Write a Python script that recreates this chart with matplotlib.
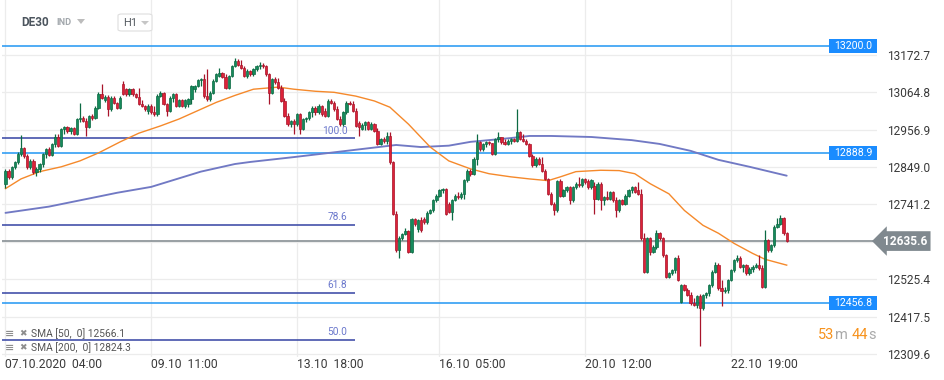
import matplotlib
matplotlib.use("Agg")
import matplotlib.pyplot as plt
from matplotlib.patches import Rectangle, Polygon, FancyBboxPatch
from matplotlib.transforms import blended_transform_factory

plt.rcParams['font.family'] = ['Roboto', 'DejaVu Sans']

# ---------------- data ----------------
opens = [12801,12839,12821,12849,12863,12887,12903,12882,12849,12868,
12834,12844,12858,12887,12901,12884,12916,12935,12911,12959,
12964,12952,12962,12946,12988,12992,12983,12966,12997,12992,
13021,13061,13044,13052,13016,13050,13035,13021,13090,13074,
13059,13074,13059,13052,13031,13026,13010,13026,13007,13002,
13055,13064,13031,13012,13050,13059,13026,13043,13026,13030,
13045,13075,13083,13100,13102,13055,13045,13064,13098,13112,
13120,13110,13078,13112,13141,13155,13145,13136,13112,13127,
13117,13131,13141,13145,13141,13117,13064,13102,13095,13078,
13040,12997,12973,12983,12973,13002,12959,12988,12990,13007,
13021,13007,13026,13010,12997,13040,13035,13016,12988,12973,
13007,13035,13030,13012,12975,12960,12970,12978,12959,12973,
12954,12916,12930,12925,12940,12863,12715,12610,12645,12657,
12664,12605,12699,12670,12696,12700,12691,12717,12724,12753,
12767,12782,12786,12744,12720,12753,12767,12763,12772,12811,
12839,12830,12873,12921,12901,12916,12921,12918,12887,12930,
12935,12921,12916,12925,12930,12925,12949,12930,12925,12916,
12882,12854,12873,12858,12839,12815,12772,12744,12724,12808,
12767,12782,12791,12753,12791,12801,12796,12815,12810,12791,
12795,12758,12801,12753,12763,12758,12777,12753,12724,12753,
12744,12767,12782,12791,12782,12772,12643,12547,12643,12605,
12619,12658,12643,12595,12533,12543,12552,12586,12461,12509,
12495,12480,12457,12452,12476,12442,12480,12485,12509,12547,
12567,12500,12490,12495,12523,12552,12581,12588,12562,12567,
12543,12555,12562,12567,12557,12504,12638,12610,12624,12677,
12686,12701,12658]

highs = [12845,12844,12853,12868,12893,12942,12908,12886,12872,12872,
12848,12862,12891,12905,12906,12920,12945,12945,12962,12967,
12967,12965,12965,12991,13033,12996,12990,13000,13002,13025,
13065,13088,13056,13056,13054,13054,13038,13054,13097,13078,
13078,13078,13062,13078,13044,13029,13030,13030,13025,13059,
13068,13067,13035,13054,13063,13062,13047,13046,13047,13049,
13087,13087,13104,13106,13118,13131,13068,13102,13121,13134,
13124,13119,13116,13145,13163,13162,13159,13140,13131,13130,
13135,13145,13152,13150,13145,13121,13106,13108,13106,13087,
13049,13006,12985,12987,13006,13005,12992,12995,13011,13025,
13025,13030,13028,13020,13045,13045,13039,13025,12996,13011,
13040,13040,13039,13020,12982,12975,12982,12982,12978,12977,
12963,12934,12936,12949,12949,12867,12722,12650,12660,12674,
12667,12703,12703,12700,12704,12705,12721,12728,12757,12771,
12786,12790,12790,12748,12757,12771,12776,12776,12815,12843,
12845,12877,12945,12925,12920,12925,12925,12920,12934,12949,
12936,12929,12929,12934,12934,13016,12954,12944,12929,12920,
12886,12877,12877,12878,12843,12819,12776,12748,12812,12815,
12786,12795,12795,12795,12805,12820,12819,12818,12816,12815,
12805,12805,12805,12767,12781,12781,12780,12762,12757,12757,
12771,12786,12795,12795,12806,12786,12658,12647,12647,12623,
12667,12662,12647,12599,12547,12556,12590,12595,12513,12513,
12499,12489,12470,12480,12484,12484,12489,12513,12551,12576,
12571,12523,12504,12527,12556,12585,12595,12592,12570,12570,
12561,12566,12571,12595,12566,12667,12642,12628,12681,12701,
12710,12705,12662]

lows = [12789,12814,12816,12844,12858,12882,12876,12843,12843,12828,
12822,12834,12850,12874,12880,12880,12907,12907,12908,12946,
12948,12945,12942,12942,12980,12978,12940,12962,12985,12988,
13017,13046,13036,12997,13012,13032,13016,13018,13057,13055,
13055,13055,13048,13027,13022,13012,13002,13002,12997,12998,
13051,13027,12997,13008,13036,13022,13022,13022,13020,13022,
13031,13065,13079,13084,13050,13040,13040,13060,13094,13108,
13105,13074,13074,13108,13137,13140,13132,13108,13107,13112,
13113,13127,13132,13135,13113,13031,13060,13090,13074,13036,
12993,12968,12965,12945,12969,12945,12955,12980,12984,12993,
13000,13003,12998,12993,12993,13030,13012,12984,12969,12969,
13003,13028,13008,12964,12940,12955,12955,12955,12955,12950,
12912,12912,12920,12917,12859,12710,12605,12586,12640,12652,
12600,12600,12680,12662,12662,12686,12686,12713,12720,12749,
12763,12775,12710,12716,12696,12750,12758,12758,12758,12806,
12822,12826,12854,12897,12897,12907,12912,12883,12883,12921,
12917,12912,12912,12917,12921,12921,12926,12921,12912,12878,
12850,12850,12854,12835,12811,12768,12740,12710,12720,12763,
12763,12778,12744,12749,12787,12792,12792,12800,12787,12787,
12715,12753,12724,12740,12754,12754,12749,12705,12720,12740,
12740,12763,12773,12773,12768,12639,12543,12543,12595,12600,
12614,12639,12591,12528,12528,12538,12543,12519,12457,12490,
12476,12452,12447,12442,12332,12438,12471,12476,12504,12543,
12495,12447,12485,12485,12519,12547,12576,12557,12547,12538,
12538,12547,12557,12552,12500,12500,12605,12605,12619,12672,
12681,12653,12632]

closes = [12839,12820,12849,12863,12887,12903,12882,12849,12868,12834,
12844,12858,12887,12901,12884,12916,12935,12911,12959,12964,
12952,12962,12946,12988,12992,12983,12966,12997,12992,13021,
13061,13050,13052,13016,13050,13035,13021,13050,13061,13059,
13074,13059,13052,13031,13026,13016,13026,13007,13002,13055,
13064,13031,13012,13050,13059,13026,13043,13026,13043,13045,
13083,13083,13100,13102,13055,13045,13064,13098,13117,13120,
13110,13078,13112,13141,13155,13145,13136,13112,13127,13117,
13131,13141,13145,13141,13117,13064,13102,13095,13078,13040,
12997,12973,12983,12973,13002,12959,12988,12990,13007,13021,
13007,13026,13002,12997,13040,13035,13016,12988,12973,13007,
13035,13030,13012,12968,12965,12970,12978,12959,12973,12954,
12916,12930,12925,12940,12863,12715,12610,12645,12657,12664,
12605,12699,12686,12696,12667,12691,12717,12724,12753,12767,
12782,12786,12715,12720,12753,12767,12763,12772,12811,12839,
12830,12873,12921,12901,12916,12921,12918,12887,12930,12935,
12921,12916,12925,12930,12925,12949,12930,12925,12916,12882,
12854,12873,12858,12839,12815,12772,12744,12724,12808,12767,
12782,12791,12753,12791,12801,12796,12815,12806,12791,12811,
12758,12801,12753,12763,12758,12777,12753,12724,12753,12744,
12767,12782,12791,12777,12772,12643,12547,12643,12605,12619,
12658,12643,12595,12533,12543,12552,12586,12523,12509,12495,
12480,12457,12452,12476,12442,12480,12485,12509,12547,12567,
12500,12490,12495,12523,12552,12581,12588,12562,12567,12543,
12555,12562,12567,12557,12504,12638,12610,12624,12677,12686,
12701,12658,12635.6]

sma50_idx = [0,5,11,18,24,30,37,43,50,56,63,68,74,80,88,93,100,106,113,119,124,130,137,143,150,
             156,163,169,175,179,184,192,198,203,208,214,219,225,230,235,241,245,252]
sma50_val = [12787,12815,12836,12850,12867,12890,12922,12947,12968,12988,13016,13036,13056,13074,13080,
             13074,13068,13065,13054,13040,13022,12973,12907,12867,12844,12830,12821,12815,12810,12821,
             12836,12840,12839,12830,12801,12772,12724,12681,12658,12629,12600,12583,12566.1]

sma200_idx = [0,14,30,36,47,63,74,79,93,110,126,134,143,150,156,163,169,176,189,202,211,221,230,240,252]
sma200_val = [12717,12735,12764,12775,12792,12836,12858,12864,12878,12896,12913,12907,12911,12922,12927,
              12933,12939,12939,12936,12927,12916,12896,12870,12850,12824.3]

date_tick_idx = [0, 47, 94, 140, 187, 234]
date_labels = ["07.10.2020  04:00", "09.10  11:00", "13.10  18:00",
               "16.10  05:00", "20.10  12:00", "22.10  19:00"]

price_ticks = [13172.7, 13064.8, 12956.9, 12849.0, 12741.2, 12633.3, 12525.4, 12417.5, 12309.6]
price_tick_labels = ["13172.7", "13064.8", "12956.9", "12849.0", "12741.2", "", "12525.4", "12417.5", "12309.6"]

level_lines = [13200.0, 12888.9, 12456.8]
current_price = 12635.6

fib_levels = [12932, 12683, 12487, 12350]
fib_labels = ["100.0", "78.6", "61.8", "50.0"]
fib_end_idx = 112.7
fib_label_idx = 110.3

sma50_last = "12566.1"
sma200_last = "12824.3"

# ---------------- figure ----------------
W, H = 945, 380
fig = plt.figure(figsize=(W / 100, H / 100), dpi=100)
L_px, R_px, T_px, B_px = 2, 877, 0, 357
ax = fig.add_axes([L_px / W, 1 - B_px / H, (R_px - L_px) / W, (B_px - T_px) / H])

def fx(px):
    return px / W

def fy(py):
    return 1 - py / H

bar_px = 3.1
x0_px = 5.5
ax.set_xlim((L_px - x0_px) / bar_px, (R_px - x0_px) / bar_px)
ax.set_ylim(12300.9, 13331.5)
for s in ax.spines.values():
    s.set_visible(False)

# grid
for p in price_ticks:
    ax.axhline(p, color="#ececec", lw=0.9, zorder=0)
for t in date_tick_idx:
    ax.axvline(t, color="#ececec", lw=0.9, zorder=0)

n = min(len(opens), len(highs), len(lows), len(closes))
xs = list(range(n))
up_col, up_edge = "#168a5c", "#0c6a43"
dn_col, dn_edge = "#dc2238", "#a8142a"
cols = [up_col if closes[i] >= opens[i] else dn_col for i in xs]
edges = [up_edge if closes[i] >= opens[i] else dn_edge for i in xs]
bottoms = [min(opens[i], closes[i]) for i in xs]
heights = [max(abs(closes[i] - opens[i]), 1.5) for i in xs]

# horizontal level lines
for lv in level_lines:
    ax.axhline(lv, color="#2196f3", lw=1.1, zorder=2)
ax.axhline(current_price, color="#878f94", lw=1.2, zorder=2)

# fib lines
for lv, lab in zip(fib_levels, fib_labels):
    ax.hlines(lv, (L_px - x0_px) / bar_px, fib_end_idx, color="#3443a3", lw=1.1, zorder=2)
    ax.annotate(lab, xy=(fib_label_idx, lv), xytext=(0, 2), textcoords="offset points",
                ha="right", va="bottom", color="#6b78cc", fontsize=7.3, zorder=3)

# SMAs
ax.plot(sma200_idx, sma200_val, color="#7179c4", lw=1.35, zorder=3, solid_capstyle="round")
ax.plot(sma50_idx, sma50_val, color="#f5892b", lw=1.0, zorder=3)

# candles
ax.vlines(xs, lows[:n], highs[:n], colors=edges, lw=0.9, zorder=4)
ax.bar(xs, heights, bottom=bottoms, width=0.74, color=cols, edgecolor=edges, linewidth=0.5, zorder=5)

# axis ticks
ax.yaxis.tick_right()
ax.set_yticks(price_ticks)
ax.set_yticklabels(price_tick_labels)
ax.tick_params(axis="y", length=0, pad=7, labelsize=8.6, labelcolor="#3a3a3a")
ax.set_xticks(date_tick_idx)
ax.set_xticklabels(date_labels, ha="left")
ax.tick_params(axis="x", length=0, pad=1, labelsize=8.7, labelcolor="#3a3a3a")

# price boxes for level lines
bt = blended_transform_factory(ax.transAxes, ax.transData)
box_h = 14 / 0.3464
bx0 = (829 - L_px) / (R_px - L_px)
for lv in level_lines:
    ax.add_patch(Rectangle((bx0, lv - box_h / 2), 1 - bx0, box_h, transform=bt,
                           facecolor="#1a8cff", edgecolor="none", zorder=6, clip_on=False))
    ax.text((bx0 + 1) / 2, lv, f"{lv:.1f}", transform=bt, ha="center", va="center",
            color="white", fontsize=7.6, zorder=7, clip_on=False)

# current price arrow label
ax.text((905 - L_px) / (R_px - L_px), current_price, f"{current_price:.1f}", transform=bt,
        ha="center", va="center", color="white", fontsize=8.6, fontweight="bold", zorder=8,
        clip_on=False,
        bbox=dict(boxstyle="larrow,pad=0.28", facecolor="#80898f", edgecolor="none"))

# header
fig.text(fx(21), fy(22), "DE30", fontsize=8.5, fontweight="bold", color="#4c555e", va="center")
fig.text(fx(56), fy(22.5), "IND", fontsize=6.6, fontweight="bold", color="#a3a8ad", va="center")
fig.patches.append(Polygon([[fx(77), fy(19)], [fx(85), fy(19)], [fx(81), fy(24)]],
                           closed=True, transform=fig.transFigure, facecolor="#bcbcbc", edgecolor="none"))
fig.patches.append(FancyBboxPatch((fx(118), fy(31)), fx(152) - fx(118), fy(14) - fy(31),
                                  boxstyle="round,pad=0,rounding_size=0.004", transform=fig.transFigure,
                                  facecolor="white", edgecolor="#dedede", lw=0.8))
fig.text(fx(123), fy(23), "H1", fontsize=8, color="#555b61", va="center")
fig.patches.append(Polygon([[fx(141), fy(21)], [fx(149), fy(21)], [fx(145), fy(25)]],
                           closed=True, transform=fig.transFigure, facecolor="#c6c6c6", edgecolor="none"))

# SMA legend
for yy, label in [(334, f"SMA [50,  0] {sma50_last}"), (348, f"SMA [200,  0] {sma200_last}")]:
    fig.text(fx(5), fy(yy), "\u2261", fontsize=8, color="#8d8d8d", va="center", fontweight="bold",
             family=["DejaVu Sans"])
    fig.text(fx(19), fy(yy), "\u2716", fontsize=6.5, color="#8d8d8d", va="center",
             family=["DejaVu Sans"])
    fig.text(fx(31), fy(yy), label, fontsize=7.4, color="#555555", va="center")

# countdown
fig.text(fx(818), fy(335), "53", fontsize=10.5, color="#f7931e", va="center")
fig.text(fx(835), fy(335), "m", fontsize=10.5, color="#a9a9a9", va="center")
fig.text(fx(852), fy(335), "44", fontsize=10.5, color="#f7931e", va="center")
fig.text(fx(868), fy(335), "s", fontsize=10.5, color="#a9a9a9", va="center")

fig.savefig("out.png", dpi=100, facecolor="white")
